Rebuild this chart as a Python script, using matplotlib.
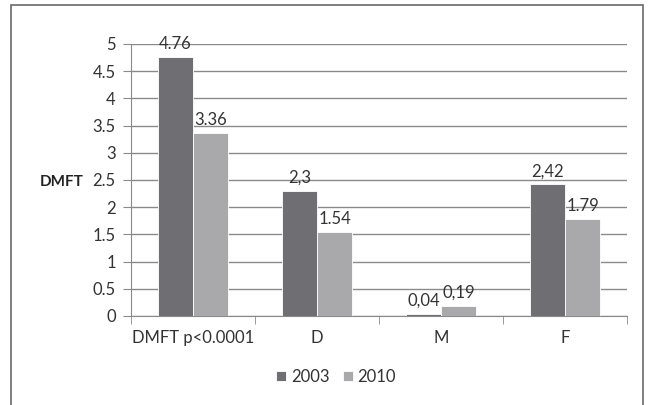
import matplotlib.pyplot as plt
import numpy as np
from matplotlib.patches import Rectangle

categories = ['DMFT p<0.0001', 'D', 'M', 'F']
years = ['2003', '2010']
vals_2003 = [4.76, 2.3, 0.04, 2.42]
vals_2010 = [3.36, 1.54, 0.19, 1.79]
labels_2003 = ['4.76', '2,3', '0,04', '2,42']
labels_2010 = ['3.36', '1.54', '0,19', '1.79']
yticks = [0, 0.5, 1, 1.5, 2, 2.5, 3, 3.5, 4, 4.5, 5]

plt.rcParams['font.family'] = ['Lato', 'DejaVu Sans']

fig = plt.figure(figsize=(6.5, 4.05), dpi=100)
# outer frame
fig.patches.append(Rectangle((11/650, -0.05), (643-11)/650, 1.05 - 5/405,
                             transform=fig.transFigure, fill=False,
                             edgecolor='#6a6a6a', linewidth=1.2))

ax = fig.add_axes([131/650, 1-316/405, (627-131)/650, (316-44)/405])

x = np.arange(len(categories))
w = 0.285
c1, c2 = '#6f6f73', '#a9a9ab'
b1 = ax.bar(x - w/2, vals_2003, w, color=c1, edgecolor='white', linewidth=0.6, label=years[0], zorder=3)
b2 = ax.bar(x + w/2, vals_2010, w, color=c2, edgecolor='white', linewidth=0.6, label=years[1], zorder=3)

for rect, lab in zip(b1, labels_2003):
    ax.annotate(lab, (rect.get_x() + rect.get_width()/2, rect.get_height()),
                xytext=(0, 3.5), textcoords='offset points', ha='center', va='bottom',
                fontsize=12, color='#333333', zorder=4)
for rect, lab in zip(b2, labels_2010):
    ax.annotate(lab, (rect.get_x() + rect.get_width()/2, rect.get_height()),
                xytext=(0, 3.5), textcoords='offset points', ha='center', va='bottom',
                fontsize=12, color='#333333', zorder=4)

ax.set_xlim(-0.5, 3.5)
ax.set_ylim(0, 5)
ax.set_yticks(yticks)
ax.set_yticklabels([('%g' % v) for v in yticks])
ax.yaxis.grid(True, color='#8a8a8a', linewidth=1, zorder=0)
ax.set_axisbelow(True)

ax.set_xticks(x)
ax.set_xticklabels(categories)
ax.set_xticks(np.arange(-0.5, 4, 1), minor=True)
ax.tick_params(axis='x', which='major', length=0, pad=10, labelsize=12, labelcolor='#333333')
ax.tick_params(axis='x', which='minor', length=6, color='#8a8a8a', direction='out')
ax.tick_params(axis='y', length=6, color='#8a8a8a', direction='out', pad=5,
               labelsize=12, labelcolor='#333333')

for s in ['top', 'right']:
    ax.spines[s].set_visible(False)
ax.spines['left'].set_color('#8a8a8a')
ax.spines['bottom'].set_color('#8a8a8a')

fig.text(62/650, 1-182/405, 'DMFT', fontsize=11, fontweight='bold', ha='center', va='center', color='#222222')

fig.legend(handles=[b1, b2], labels=years, loc='center', bbox_to_anchor=(336/650, 1-377/405),
           ncol=2, frameon=False, fontsize=12, handlelength=0.6, handleheight=0.6,
           handletextpad=0.3, columnspacing=0.8, labelcolor='#333333')

fig.savefig('out.png', dpi=100, facecolor='white')
